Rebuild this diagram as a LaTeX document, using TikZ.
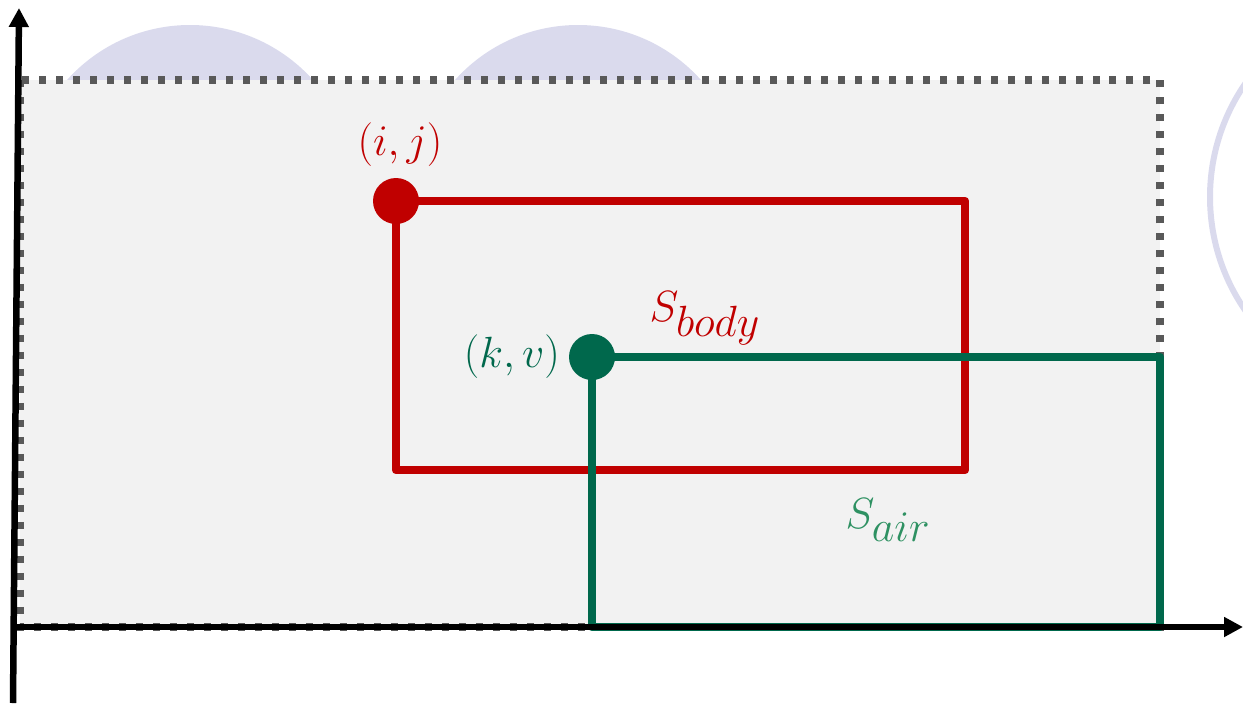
\documentclass[tikz,border=0pt]{standalone}
\usetikzlibrary{arrows.meta,positioning}
\definecolor{bodyred}{RGB}{192,0,0}
\definecolor{airgreen}{RGB}{0,104,76}
\definecolor{airlabel}{RGB}{46,145,98}
\definecolor{lilac}{RGB}{218,218,237}
\definecolor{paneground}{RGB}{242,242,242}
\definecolor{framegrey}{RGB}{89,89,89}

\begin{document}
\begin{tikzpicture}[x=0.02cm, y=-0.02cm,
    dot/.style={circle, inner sep=0pt, minimum width=0.92cm, minimum height=0.86cm},
    lbl/.style={font=\fontsize{24}{28}\selectfont},
    axis/.style={line width=0.13cm, -{Triangle[length=0.38cm, width=0.38cm]}},
    region/.style={line width=0.17cm, line join=round}
]
    \useasboundingbox (0,0) rectangle (1243,703);
    \clip (0,0) rectangle (1243,703);

    % background shapes
    \fill[lilac] (190,190) circle[radius=165];
    \fill[lilac] (578,190) circle[radius=165];
    \draw[lilac, line width=0.12cm] (1410,197) circle[radius=200];
    \filldraw[fill=paneground, draw=framegrey, line width=0.15cm,
        dash pattern=on 0.14cm off 0.20cm] (20,80) rectangle (1160,627);

    % body region
    \coordinate (ij) at (396,201);
    \coordinate (bodycorner) at (965,470);
    \draw[region, bodyred] (ij) rectangle (bodycorner);
    \node[dot, fill=bodyred] (ijdot) at (ij) {};
    \node[lbl, text=bodyred] (ijlbl) at (400,145) {$(i,j)$};
    \node[lbl, text=bodyred] (bodylbl) at (705,318) {$S_{\textstyle body}$};

    % air region
    \coordinate (kv) at (592,357);
    \coordinate (aircorner) at (1160,627);
    \draw[region, airgreen] (kv) rectangle (aircorner);
    \node[dot, fill=airgreen] (kvdot) at (kv) {};
    \node[lbl, text=airgreen, left=0.05cm of kvdot] (kvlbl) {$(k,v)$};
    \node[lbl, text=airlabel] (airlbl) at (888,520) {$S_{\textstyle air}$};

    % axes
    \coordinate (ybot) at (13,703);
    \coordinate (ytop) at (19,8);
    \coordinate (xleft) at (13,627);
    \coordinate (xright) at (1243,627);
    \draw[axis] (ybot) -- (ytop);
    \draw[axis] (xleft) -- (xright);
\end{tikzpicture}
\end{document}
